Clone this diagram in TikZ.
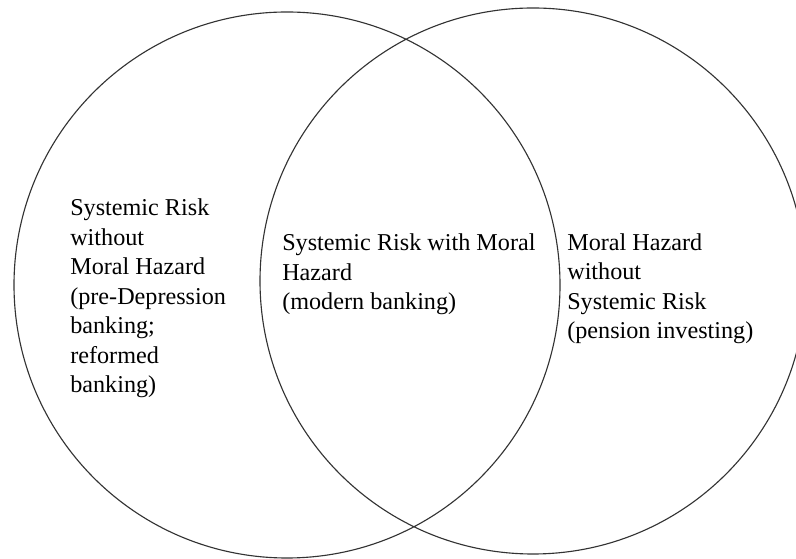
\documentclass[tikz,border=0pt]{standalone}
\usepackage{fontspec}
\setmainfont{Liberation Serif}
\usetikzlibrary{positioning}

\tikzset{label/.style={anchor=base west, inner sep=0pt, align=left,
                       font=\fontsize{17.2}{21}\selectfont}}

\begin{document}
\begin{tikzpicture}
    \useasboundingbox (0, 0) rectangle (19.9, 13.95);
    \clip (0, 0) rectangle (19.9, 13.95);
    \draw[line width=0.8pt, black!80]
          (7.175, 6.825) circle (6.825)
          (13.325, 6.925) circle (6.825);
    % anchors sit on the last line of each label
    \path (1.75, 4.125) node[label] (srmh) {Systemic Risk\\without\\Moral Hazard\\(pre-Depression\\banking;\\reformed\\banking)}
          (7.05, 6.2) node[label] (both) {Systemic Risk with Moral\\Hazard\\(modern banking)}
          (14.175, 5.475) node[label] (mhsr) {Moral Hazard\\without\\Systemic Risk\\(pension investing)};
\end{tikzpicture}
\end{document}
